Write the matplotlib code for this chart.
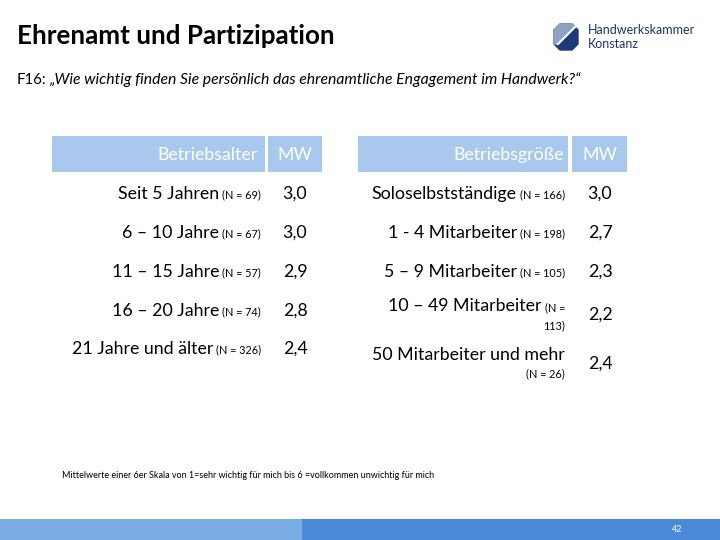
import matplotlib.pyplot as plt
from matplotlib.patches import Rectangle, Polygon

plt.rcParams['font.family'] = ['Lato', 'DejaVu Sans']

# Daten
alter_kat = ["Seit 5 Jahren", "6 – 10 Jahre", "11 – 15 Jahre", "16 – 20 Jahre", "21 Jahre und älter"]
alter_n = [69, 67, 57, 74, 326]
alter_mw = [3.0, 3.0, 2.9, 2.8, 2.4]

groesse_kat = ["Soloselbstständige", "1 - 4 Mitarbeiter", "5 – 9 Mitarbeiter",
               "10 – 49 Mitarbeiter", "50 Mitarbeiter und mehr"]
groesse_n = [166, 198, 105, 113, 26]
groesse_mw = [3.0, 2.7, 2.3, 2.2, 2.4]

kopf_blau = '#a9c8ed'
fs_haupt = 12.8
fs_n = 7.8

fig = plt.figure(figsize=(7.2, 5.4), dpi=100)
ax = fig.add_axes([0, 0, 1, 1])
ax.set_xlim(0, 720)
ax.set_ylim(540, 0)
ax.axis('off')

# Titel
ax.text(17, 36, "Ehrenamt und Partizipation", fontsize=18.7, fontweight='bold', va='center', ha='left')
t = ax.text(17, 80, "F16:", fontsize=10.8, va='center', ha='left')
fig.canvas.draw()
r = fig.canvas.get_renderer()
bb = t.get_window_extent(r)
x_end = ax.transData.inverted().transform((bb.x1, 0))[0]
ax.text(x_end + 3, 80, "„Wie wichtig finden Sie persönlich das ehrenamtliche Engagement im Handwerk?“",
        fontsize=11.3, style='italic', va='center', ha='left')

# Logo
ax.add_patch(Polygon([(560, 24), (572, 24), (578, 30), (578, 44), (572, 50), (560, 50), (554, 44), (554, 30)],
                     closed=True, color='#1e3a78'))
ax.add_patch(Polygon([(560, 24), (572, 24), (575, 27), (558, 44), (554, 44), (554, 30)],
                     closed=True, color='#8ea3c4'))
ax.plot([575, 558], [27, 44], color='white', lw=1.5)
ax.text(588, 30, "Handwerkskammer", fontsize=9, color='#1e3464', va='center', ha='left')
ax.text(588, 44, "Konstanz", fontsize=9, color='#1e3464', va='center', ha='left')


def label(x_right, y, haupt, n, zweizeilig=None):
    if zweizeilig == 'n_split':
        # N-Angabe umbrochen
        t1 = ax.text(x_right, y - 7, "(N =", fontsize=fs_n, va='center', ha='right')
        ax.text(x_right, y + 11, f"{n})", fontsize=fs_n, va='center', ha='right')
        bb = t1.get_window_extent(r)
        xe = ax.transData.inverted().transform((bb.x0, 0))[0]
        ax.text(xe - 3, y - 9, haupt, fontsize=fs_haupt, va='center', ha='right')
    elif zweizeilig == 'below':
        ax.text(x_right, y - 9, haupt, fontsize=fs_haupt, va='center', ha='right')
        ax.text(x_right, y + 10, f"(N = {n})", fontsize=fs_n, va='center', ha='right')
    else:
        t1 = ax.text(x_right, y + 1, f"(N = {n})", fontsize=fs_n, va='center', ha='right')
        bb = t1.get_window_extent(r)
        xe = ax.transData.inverted().transform((bb.x0, 0))[0]
        ax.text(xe - 3, y, haupt, fontsize=fs_haupt, va='center', ha='right')


# Tabelle Betriebsalter
ax.add_patch(Rectangle((52, 136), 213, 36, color=kopf_blau, lw=0))
ax.add_patch(Rectangle((268, 136), 54, 36, color=kopf_blau, lw=0))
ax.text(258, 155, "Betriebsalter", fontsize=12.8, color='white', va='center', ha='right')
ax.text(295, 155, "MW", fontsize=12.8, color='white', va='center', ha='center')
y_links = [194, 233, 272, 311, 349]
for k, n, mw, y in zip(alter_kat, alter_n, alter_mw, y_links):
    label(261, y, k, n)
    ax.text(295, y, f"{mw:.1f}".replace('.', ','), fontsize=fs_haupt, va='center', ha='center')

# Tabelle Betriebsgröße
ax.add_patch(Rectangle((358, 136), 210, 36, color=kopf_blau, lw=0))
ax.add_patch(Rectangle((572, 136), 55, 36, color=kopf_blau, lw=0))
ax.text(564, 155, "Betriebsgröße", fontsize=12.8, color='white', va='center', ha='right')
ax.text(600, 155, "MW", fontsize=12.8, color='white', va='center', ha='center')
y_rechts = [194, 233, 272, 315, 364]
modus = [None, None, None, 'n_split', 'below']
for k, n, mw, y, m in zip(groesse_kat, groesse_n, groesse_mw, y_rechts, modus):
    label(565, y, k, n, m)
    ax.text(600, y, f"{mw:.1f}".replace('.', ','), fontsize=fs_haupt, va='center', ha='center')

# Fußnote
ax.text(62, 475, "Mittelwerte einer 6er Skala von 1=sehr wichtig für mich bis 6 =vollkommen unwichtig für mich",
        fontsize=6.5, va='center', ha='left')

# Fußleiste
ax.add_patch(Rectangle((0, 519), 302, 21, color='#7aaee3', lw=0))
ax.add_patch(Rectangle((302, 519), 418, 21, color='#4a8ad8', lw=0))
ax.text(677, 530, "42", fontsize=6.5, color='white', va='center', ha='center')

fig.savefig('out.png', dpi=100)
